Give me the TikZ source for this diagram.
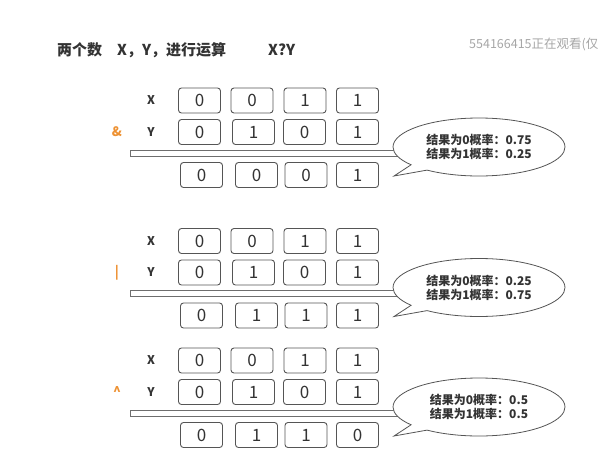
\documentclass[tikz,border=0pt]{standalone}
\usepackage{fontspec}
\setmainfont{Noto Sans CJK SC}
\usetikzlibrary{shapes.callouts, positioning}
\definecolor{boxgray}{RGB}{85, 85, 85}
\definecolor{textgray}{RGB}{51, 51, 51}
\definecolor{oporange}{RGB}{237, 145, 50}

\begin{document}
\begin{tikzpicture}[
    x=1pt, y=-1pt,
    title/.style={anchor=west, inner sep=0pt, text=textgray, font=\bfseries\fontsize{15}{15}\selectfont},
    bit/.style={rectangle, draw=boxgray, line width=0.9pt, rounded corners=3pt, minimum width=42pt, minimum height=25pt, inner sep=0pt, text=textgray, font=\fontsize{17}{17}\selectfont},
    rowlabel/.style={inner sep=0pt, text=textgray, font=\bfseries\fontsize{12}{12}\selectfont},
    oplabel/.style={inner sep=0pt, text=oporange, font=\bfseries\fontsize{13}{13}\selectfont},
    bar/.style={draw=boxgray!85, line width=0.8pt, fill=white},
    note/.style={ellipse callout, draw=boxgray, line width=0.8pt, fill=white, minimum width=172pt, minimum height=58pt, inner sep=0pt, align=left, text=textgray, font=\bfseries\fontsize{12}{14}\selectfont}
]
    \useasboundingbox (0,0) rectangle (600,472);

    % Title
    \node[title] (title) at (57,50) {两个数};
    \node[title] (titlevars) at (117,50) {X，Y，进行运算};
    \node[title] (titleexpr) at (268,50) {X?Y};
    \node[anchor=west, inner sep=0pt, text=gray!70, font=\fontsize{12.5}{12.5}\selectfont] (viewers) at (469,44) {554166415正在观看(仅};

    % Blocks: name / top row / operator / result bits / probabilities
    \foreach \blk/\top/\op/\res/\pzero/\pone in {
        and/100.5/\&/{0,0,0,1}/0.75/0.25,
        or/241/\textbar/{0,1,1,1}/0.25/0.75,
        xor/360.5/\textasciicircum/{0,1,1,0}/0.5/0.5} {
        % operands
        \node[rowlabel] (\blk-xl) at (151,\top) {X};
        \node[rowlabel] (\blk-yl) at (151,\top+31.5) {Y};
        \node[oplabel] (\blk-op) at (117,\top+31.5) {\op};
        \foreach \x/\b [count=\i] in {199.5/0, 252/0, 305/1, 357.5/1}
            \node[bit] (\blk-x\i) at (\x,\top) {\b};
        \foreach \x/\b [count=\i] in {199.5/0, 253.5/1, 304.5/0, 357.5/1}
            \node[bit] (\blk-y\i) at (\x,\top+31.5) {\b};
        % result
        \foreach \b [count=\i] in \res {
            \pgfmathsetmacro\rx{{201.5,256.5,306,357.5}[\i-1]}
            \node[bit] (\blk-r\i) at (\rx,\top+74.5) {\b};
        }
        % bar and note
        \draw[bar] (130,\top+49.5) rectangle (402,\top+55.5);
        \node[note, callout absolute pointer={(394,\top+75.5)}] (\blk-note) at (479,\top+46.5)
            {结果为0概率：\pzero\\结果为1概率：\pone};
    }
\end{tikzpicture}
\end{document}
